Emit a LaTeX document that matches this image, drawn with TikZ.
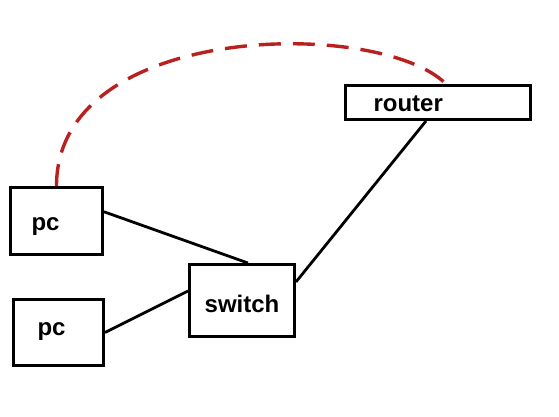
\documentclass[tikz,border=0pt]{standalone}
\usepackage{fontspec}
\setmainfont{Liberation Sans}
\usepackage{xcolor}
\usetikzlibrary{arrows.meta,positioning}
\definecolor{linkred}{RGB}{185,32,32}

\begin{document}
\begin{tikzpicture}[
  x=1pt, y=-1pt,
  dev/.style={draw, line width=3pt, align=left, text depth=0pt, font=\fontsize{24}{28}\bfseries\selectfont},
  link/.style={line width=2.8pt},
  wan/.style={line width=3.4pt, linkred, dash pattern=on 22pt off 12pt}
]
\fill[white] (0,0) rectangle (559,417);
\useasboundingbox (0,0) rectangle (559,417);
\node[dev, text width=50pt, inner xsep=21pt, minimum height=67pt, text height=18pt] (pcA) at (56.5,221) {pc};
\node[dev, text width=42pt, inner xsep=24pt, minimum height=66pt, text height=6pt] (pcB) at (58.5,332.5) {pc};
\node[dev, text width=77pt, inner xsep=14pt, minimum height=72pt, text height=23pt, align=center] (sw) at (242,300.5) {switch};
\node[dev, text width=129pt, inner xsep=28pt, minimum height=34pt, inner ysep=0pt, text height=19pt] (rt) at (438,102.5) {router};
\draw[link] (pcA.11) -- (sw.81);
\draw[link] (pcB.east) -- (sw.170);
\draw[link] (sw.19) -- (rt.237);
\draw[wan] (pcA.north) .. controls +(0,-165) and +(-66,-66) .. ([xshift=8pt]rt.north);
\end{tikzpicture}
\end{document}
